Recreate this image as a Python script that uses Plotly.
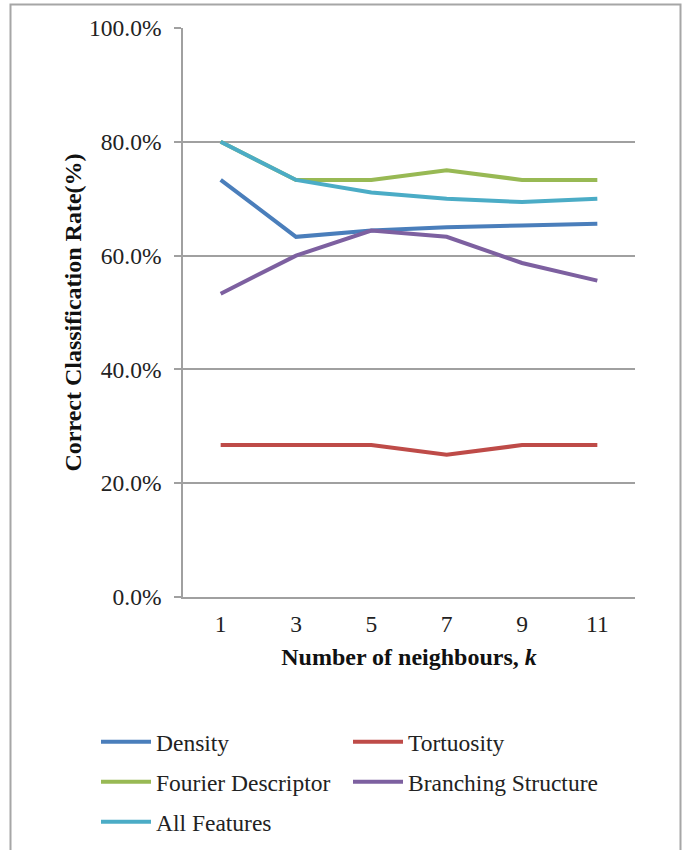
import plotly.graph_objects as go

k_labels = ["1", "3", "5", "7", "9", "11"]
density = [0.733, 0.633, 0.644, 0.650, 0.653, 0.656]
tortuosity = [0.267, 0.267, 0.267, 0.250, 0.267, 0.267]
fourier = [0.800, 0.733, 0.733, 0.750, 0.733, 0.733]
branching = [0.533, 0.600, 0.644, 0.633, 0.587, 0.556]
all_features = [0.800, 0.733, 0.711, 0.700, 0.694, 0.700]

series = [
    ("Density", density, "#4A7EBB", "legend"),
    ("Tortuosity", tortuosity, "#BE4B48", "legend2"),
    ("Fourier Descriptor", fourier, "#98B954", "legend3"),
    ("Branching Structure", branching, "#7D60A0", "legend4"),
    ("All Features", all_features, "#4BACC6", "legend5"),
]

FONT = "Liberation Serif, Times New Roman, serif"
W, H = 688, 850
# plot area in page pixels: x 183..635, y 28..597
L = 183
R = W - 635
T = 28
B = H - 597
pw, ph = W - L - R, H - T - B

def px2paper_x(x):
    return (x - L) / pw

def px2paper_y(y):
    return (H - B - y) / ph

fig = go.Figure()
for name, vals, color, lg in series:
    fig.add_trace(go.Scatter(
        x=k_labels, y=vals, name=name, mode="lines",
        line=dict(color=color, width=4), legend=lg,
    ))

leg_pos = {
    "legend": (96, 742),
    "legend2": (348, 742),
    "legend3": (96, 782),
    "legend4": (348, 782),
    "legend5": (96, 822),
}
legend_layouts = {}
for key, (lx, ly) in leg_pos.items():
    legend_layouts[key] = dict(
        x=px2paper_x(lx), y=px2paper_y(ly), xanchor="left", yanchor="middle",
        xref="paper", yref="paper", orientation="h",
        font=dict(family=FONT, size=23.5, color="#222222"),
        bgcolor="rgba(0,0,0,0)", itemwidth=50,
    )

fig.update_layout(
    width=W, height=H,
    margin=dict(l=L, r=R, t=T, b=B, autoexpand=False),
    paper_bgcolor="white", plot_bgcolor="white",
    font=dict(family=FONT, size=23.5, color="#222222"),
    showlegend=True,
    **legend_layouts,
)

fig.update_xaxes(
    type="category", range=[-0.5, 5.5],
    showgrid=False, showline=True, linecolor="#A0A0A0", linewidth=1.5,
    ticks="", ticklabelstandoff=5,
    tickfont=dict(family=FONT, size=23.5, color="#222222"),
    title=dict(text="<b>Number of neighbours, <i>k</i></b>",
               font=dict(family=FONT, size=24, color="#111111"), standoff=12),
)
fig.update_yaxes(
    range=[0, 1], dtick=0.2, tickformat=".1%",
    showgrid=True, gridcolor="#A0A0A0", gridwidth=1.5,
    showline=True, linecolor="#A0A0A0", linewidth=1.5,
    ticks="outside", ticklen=7, tickcolor="#A0A0A0", tickwidth=1.5,
    ticklabelstandoff=8, zeroline=False,
    tickfont=dict(family=FONT, size=23.5, color="#222222"),
    title=dict(text="<b>Correct Classification Rate(%)</b>",
               font=dict(family=FONT, size=24, color="#111111"), standoff=1),
)

fig.add_shape(
    type="rect", xref="paper", yref="paper",
    x0=px2paper_x(10.5), x1=px2paper_x(680.5), y0=px2paper_y(870), y1=px2paper_y(4.5),
    line=dict(color="#A6A6A6", width=2), fillcolor="rgba(0,0,0,0)", layer="below",
)

fig.write_html(
    "out.html",
    config={"displayModeBar": False},
    post_script="document.body.style.margin='0';document.body.style.overflow='hidden';",
)
